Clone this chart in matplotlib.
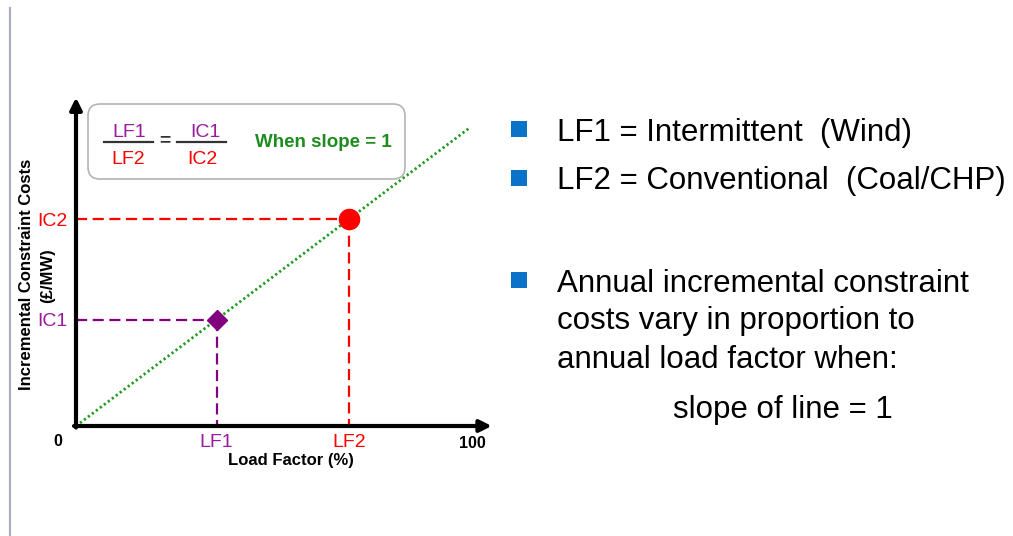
import matplotlib
matplotlib.use("Agg")
import matplotlib.pyplot as plt
from matplotlib.patches import FancyBboxPatch, Rectangle
from matplotlib.lines import Line2D

plt.rcParams['font.family'] = ['Liberation Sans', 'DejaVu Sans']

# data (load factor %, cost in the same units, slope = 1)
line_x = [0, 99.5]
line_y = [0, 99.5]
lf_values = [35.5, 69.0]
ic_values = [35.5, 69.0]
lf_labels = ['LF1', 'LF2']
ic_labels = ['IC1', 'IC2']
point_colors = ['#800080', '#ff0000']
label_colors = ['#9a1a9e', '#ff0000']
point_markers = ['D', 'o']
point_sizes = [10, 14.5]

bullets = ['LF1 = Intermittent  (Wind)', 'LF2 = Conventional  (Coal/CHP)',
           'Annual incremental constraint']
bullet_lines = ['costs vary in proportion to', 'annual load factor when:']
last_line = 'slope of line = 1'

W, H = 1013, 536
fig = plt.figure(figsize=(W / 100, H / 100), dpi=100)
inch = fig.dpi_scale_trans


def P(x, y):
    # pixel position (from top-left) -> inches
    return x / 100, (H - y) / 100


# axes: origin at pixel (76, 426), 3.96 px per x unit, 3.0 px per y unit
ax = fig.add_axes([76 / W, 110 / H, 107 * 3.96 / W, 110 * 3.0 / H])
ax.set_xlim(0, 107)
ax.set_ylim(0, 110)
for s in ax.spines.values():
    s.set_visible(False)
ax.patch.set_visible(False)

# axis arrows
arrow = dict(arrowstyle='-|>,head_width=0.35,head_length=0.7', lw=3, color='black',
             shrinkA=0, shrinkB=0)
ax.annotate('', xy=(105, 0), xytext=(-0.5, 0), arrowprops=arrow, annotation_clip=False)
ax.annotate('', xy=(0, 109.5), xytext=(0, -0.5), arrowprops=arrow, annotation_clip=False)

# slope = 1 line
ax.plot(line_x, line_y, color='#1f9a1f', lw=2, dashes=(0.8, 1.0), zorder=2)

# guide lines and points
for lf, ic, c, m, ms in zip(lf_values, ic_values, point_colors, point_markers, point_sizes):
    ax.plot([0, lf], [ic, ic], color=c, lw=1.6, dashes=(5, 2.5), zorder=1)
    ax.plot([lf, lf], [ic, 0], color=c, lw=1.6, dashes=(5, 2.5), zorder=1)
    ax.plot([lf], [ic], marker=m, ms=ms, color=c, mec=c, zorder=3)

ax.set_xticks(lf_values, lf_labels, fontsize=14)
ax.set_yticks(ic_values, ic_labels, fontsize=14)
ax.tick_params(length=0, pad=6)
for t, c in zip(ax.get_xticklabels(), label_colors):
    t.set_color(c)
for t, c in zip(ax.get_yticklabels(), label_colors):
    t.set_color(c)

# axis end labels and titles
fig.text(*P(58, 442), '0', transform=inch, ha='center', va='center',
         fontsize=11.5, fontweight='bold')
fig.text(*P(472, 443), '100', transform=inch, ha='center', va='center',
         fontsize=11.5, fontweight='bold')
fig.text(*P(291, 460), 'Load Factor (%)', transform=inch, ha='center', va='center',
         fontsize=12, fontweight='bold')
fig.text(*P(27, 274), 'Incremental Constraint Costs', transform=inch, ha='center',
         va='center', rotation=90, fontsize=12, fontweight='bold')
fig.text(*P(48, 276), '(£/MW)', transform=inch, ha='center', va='center',
         rotation=90, fontsize=12, fontweight='bold')

# formula box
x0, y0 = P(88, 179)
x1, y1 = P(405, 104)
box = FancyBboxPatch((x0, y0), x1 - x0, y1 - y0, transform=inch,
                     boxstyle='round,pad=0,rounding_size=0.12',
                     fc='white', ec='#b4b4b4', lw=1.2, zorder=5)
fig.add_artist(box)
for xa, xb in [(104, 153), (177, 226)]:
    fig.add_artist(Line2D([xa / 100, xb / 100], [(H - 141.5) / 100] * 2,
                          transform=inch, color='#333333', lw=1.6, zorder=6))
fig.text(*P(129, 137), 'LF1', transform=inch, ha='center', va='baseline',
         fontsize=14, color=label_colors[0], zorder=6)
fig.text(*P(128, 164), 'LF2', transform=inch, ha='center', va='baseline',
         fontsize=14, color=label_colors[1], zorder=6)
fig.text(*P(205, 137), 'IC1', transform=inch, ha='center', va='baseline',
         fontsize=14, color=label_colors[0], zorder=6)
fig.text(*P(202, 164), 'IC2', transform=inch, ha='center', va='baseline',
         fontsize=14, color=label_colors[1], zorder=6)
fig.text(*P(165, 141), '=', transform=inch, ha='center', va='center',
         fontsize=14, fontweight='bold', color='#333333', zorder=6)
fig.text(*P(255, 147), 'When slope = 1', transform=inch, ha='left', va='baseline',
         fontsize=13.5, fontweight='bold', color='#1e8c1e', zorder=6)

# right-hand bullet text
for txt, by, sq in zip(bullets, [141, 189, 292], [121, 170, 272]):
    fig.add_artist(Rectangle(P(511, sq + 16), 0.16, 0.16, transform=inch,
                             fc='#0a72c8', ec='none'))
    fig.text(*P(557, by), txt, transform=inch, ha='left', va='baseline', fontsize=22.5)
for txt, by in zip(bullet_lines, [329, 368]):
    fig.text(*P(557, by), txt, transform=inch, ha='left', va='baseline', fontsize=22.5)
fig.text(*P(673, 418), last_line, transform=inch, ha='left', va='baseline', fontsize=22.5)

# slide border on the left
fig.add_artist(Line2D([0.10, 0.10], [0, (H - 8) / 100], transform=inch,
                      color='#abb0bd', lw=1.6))

fig.savefig('out.png', dpi=100)
